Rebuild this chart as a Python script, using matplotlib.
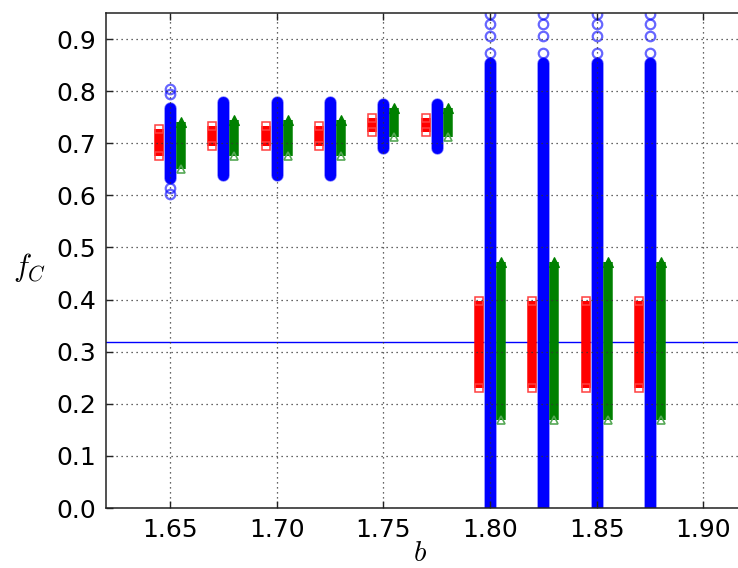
import numpy as np
import matplotlib
matplotlib.use("Agg")
import matplotlib.pyplot as plt

plt.rcParams['mathtext.fontset'] = 'cm'
plt.rcParams['font.family'] = ['DejaVu Sans']

# parameter values b
b_vals = [1.65, 1.675, 1.70, 1.725, 1.75, 1.775, 1.80, 1.825, 1.85, 1.875]

# red squares: extent of the stacked markers (marker centres)
red_lo = [0.676, 0.695, 0.695, 0.695, 0.722, 0.722, 0.231, 0.231, 0.231, 0.231]
red_hi = [0.727, 0.734, 0.734, 0.734, 0.748, 0.748, 0.397, 0.397, 0.397, 0.397]

# blue circles: dense part (marker centres)
blue_lo = [0.634, 0.640, 0.640, 0.640, 0.690, 0.690, 0.000, 0.000, 0.000, 0.000]
blue_hi = [0.768, 0.780, 0.780, 0.780, 0.775, 0.775, 0.854, 0.854, 0.854, 0.854]
# blue circles: isolated outliers (b, f_C)
blue_out_b = [1.65, 1.65, 1.65, 1.65,
              1.80, 1.80, 1.80, 1.80,
              1.825, 1.825, 1.825, 1.825,
              1.85, 1.85, 1.85, 1.85,
              1.875, 1.875, 1.875, 1.875]
blue_out_f = [0.603, 0.615, 0.795, 0.805,
              0.874, 0.906, 0.929, 0.948,
              0.874, 0.906, 0.929, 0.948,
              0.874, 0.906, 0.929, 0.948,
              0.874, 0.906, 0.929, 0.948]

# green triangles (marker centres)
green_lo = [0.651, 0.676, 0.676, 0.676, 0.712, 0.712, 0.168, 0.168, 0.168, 0.168]
green_hi = [0.740, 0.744, 0.744, 0.744, 0.767, 0.767, 0.472, 0.472, 0.472, 0.472]

# reference line
f_ref = 0.318

shift = 0.0051

fig = plt.figure(figsize=(7.38, 5.68), dpi=100)
ax = fig.add_axes([106/738, 60/568, 640/738, 495/568])

ax.axhline(f_ref, color='#0000ff', lw=1.0, zorder=1)

px = 72.0 / 100.0  # points per pixel

for b, lo, hi in zip(b_vals, red_lo, red_hi):
    x = b - shift
    ax.plot([x, x], [lo, hi], color='#ff0000', lw=9.5 * px, solid_capstyle='butt', zorder=2)
    ax.plot([x, x], [lo, hi], ls='none', marker='s', ms=8.5 * px, mfc='none',
            mec='#ff4040', mew=1.1, zorder=2.1)

for b, lo, hi in zip(b_vals, blue_lo, blue_hi):
    ax.plot([b, b], [lo, hi], color='#7a7aff', lw=12.5 * px, solid_capstyle='round', zorder=2)
    ax.plot([b, b], [lo, hi], color='#0000ff', lw=11 * px, solid_capstyle='round', zorder=2.05)
ax.plot(blue_out_b, blue_out_f, ls='none', marker='o', ms=9.5 * px, mfc='none',
        mec='#0000ff', mew=1.6, alpha=0.6, zorder=2.1)

for b, lo, hi in zip(b_vals, green_lo, green_hi):
    x = b + shift
    ax.plot([x, x], [lo, hi], color='#008000', lw=9.5 * px, solid_capstyle='butt', zorder=2)
    ax.plot([x], [hi], ls='none', marker='^', ms=10 * px, mfc='#008000',
            mec='#008000', mew=0.8, zorder=2.1)
    ax.plot([x], [lo], ls='none', marker='^', ms=8.5 * px, mfc='none',
            mec='#55a855', mew=1.2, zorder=2.1)

ax.set_xlim(1.62, 1.92)
ax.set_ylim(0.0, 0.95)
ax.set_xticks([1.65, 1.70, 1.75, 1.80, 1.85, 1.90])
ax.set_yticks([0.0, 0.1, 0.2, 0.3, 0.4, 0.5, 0.6, 0.7, 0.8, 0.9])
ax.set_xticklabels(['1.65', '1.70', '1.75', '1.80', '1.85', '1.90'])
ax.set_yticklabels(['0.0', '0.1', '0.2', '0.3', '0.4', '0.5', '0.6', '0.7', '0.8', '0.9'])

ax.set_axisbelow(False)
ax.grid(True, color='#333333', linestyle=(0, (1, 3)), lw=0.9)
ax.tick_params(direction='in', top=True, right=True, length=5, width=1,
               labelsize=18, pad=7, color='#222222')
for s in ax.spines.values():
    s.set_linewidth(1.1)
    s.set_color('#222222')

ax.set_xlabel('$b$', fontsize=21, va='center')
ax.xaxis.set_label_coords(0.49, -0.09)
ax.set_ylabel('$f_C$', fontsize=22, rotation=0, va='center', ha='center')
ax.yaxis.set_label_coords(-0.12, 0.485)

fig.savefig('out.png', dpi=100)
